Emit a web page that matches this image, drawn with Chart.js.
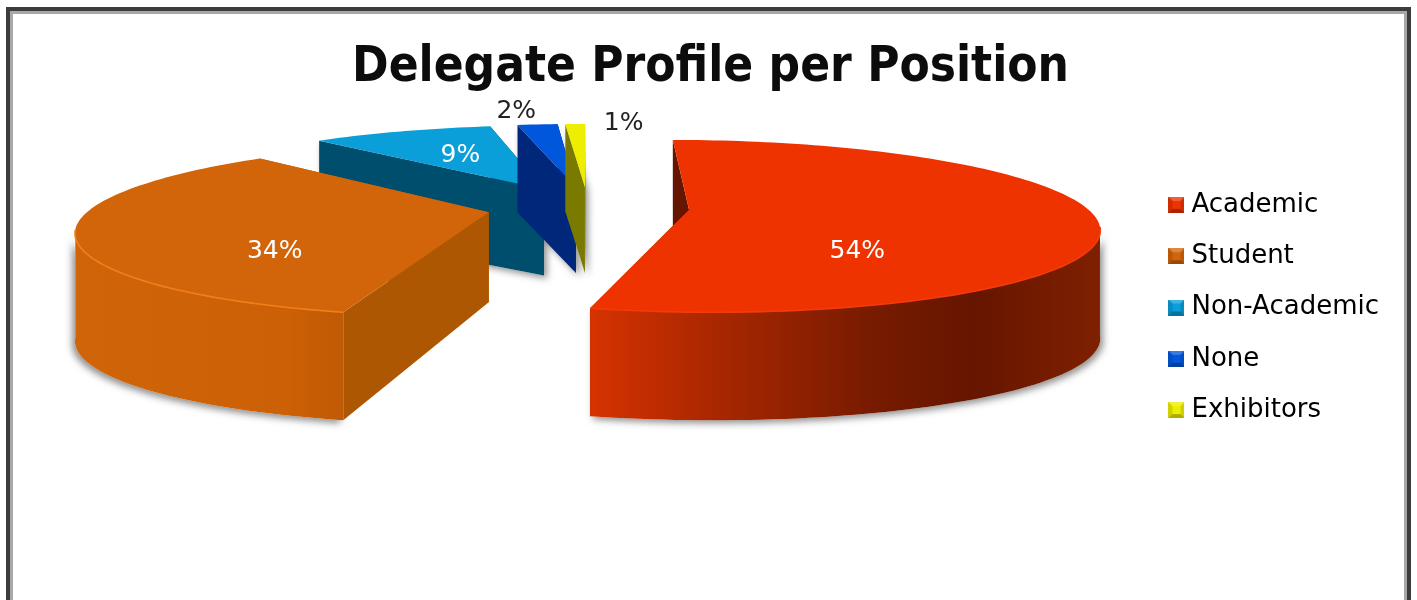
<!DOCTYPE html>
<html><head><meta charset="utf-8">
<style>
html,body{margin:0;padding:0;background:#fff;overflow:hidden;width:1417px;height:600px}
#frame{position:absolute;left:6px;top:7px;width:1397px;height:620px;border:4px solid #3c3c3c;box-sizing:content-box}
#frame:after{content:"";position:absolute;inset:0;border:3px solid #a8a8a8;border-bottom:0}
#wrap{position:absolute;left:0;top:0;width:1417px;height:600px}
</style>
<script src="https://cdn.jsdelivr.net/npm/chart.js@4/dist/chart.umd.js"></script>
</head><body>
<div id="frame"></div>
<div id="wrap"><canvas id="c" width="1417" height="600"></canvas></div>
<script>
const categories = ["Academic","Student","Non-Academic","None","Exhibitors"];
const percentValues = [54,34,9,2,1];
const labelsText = ["54%","34%","9%","2%","1%"];
const titleText = "Delegate Profile per Position";

const topColors = ["#ee3300","#d2650a","#0a9fd8","#0057dc","#eeee00"];
const cutColors = ["#661500","#ae5702","#004e6e","#00277a","#7a7a00"];
const rimColors = ["#f43c08","#f2801a",null,null,null];
const wallStops = [
  [[0,"#d63300"],[0.22,"#ad2800"],[0.55,"#781b00"],[0.75,"#661500"],[1,"#7f2000"]],
  [[0,"#cf6408"],[0.8,"#cb6006"],[1,"#c05a04"]],
  null,null,null];
const drawOrder = [2,3,4,1,0];
const labelFraction = [0.43,0.52,0.5,1.1,1.1];
const labelShift = [[-5,37],[-4,28],[-7,-3],[-18,-8],[49,5]];
const labelColors = ["#ffffff","#ffffff","#ffffff","#222222","#222222"];

// Projection of the pie plane on the page (perspective view)
const view = {cx:588, cy:207, rx:397, ry:82, persp:0.19};
const project = (u,v)=>{const w=1+view.persp*v;return [view.cx+view.rx*u/w, view.cy-view.ry*v/w, w];};

function marker(color){
  const s=16,c=document.createElement('canvas');c.width=s;c.height=s;
  const g=c.getContext('2d');
  g.fillStyle=color;g.fillRect(0,0,s,s);
  const tri=(pts,col)=>{g.fillStyle=col;g.beginPath();pts.forEach((p,i)=>i?g.lineTo(p[0],p[1]):g.moveTo(p[0],p[1]));g.closePath();g.fill();};
  tri([[0,0],[s,0],[s-4,4],[4,4]],"rgba(255,255,255,.22)");
  tri([[0,s],[s,s],[s-4,s-4],[4,s-4]],"rgba(0,0,0,.28)");
  tri([[0,0],[4,4],[4,s-4],[0,s]],"rgba(0,0,0,.12)");
  tri([[s,0],[s-4,4],[s-4,s-4],[s,s]],"rgba(0,0,0,.12)");
  return c;
}
const markers = topColors.map(marker);

const pie3d = {
  id:'pie3d',
  beforeDatasetsDraw(chart){
    const ctx=chart.ctx, arcs=chart.getDatasetMeta(0).data;
    const geo=arcs.map(a=>{
      const p=a.getProps(['startAngle','endAngle','outerRadius'],true);
      const s=p.startAngle+Math.PI/2, e=p.endAngle+Math.PI/2, m=(s+e)/2;
      const ex=a.options.offset/p.outerRadius;
      const o=[ex*Math.sin(m),ex*Math.cos(m)];
      return {s,e,m,o};
    });
    const pt=(g,r,t)=>{
      const P=project(g.o[0]+r*Math.sin(t),g.o[1]+r*Math.cos(t));
      const d=(90+18*r)/Math.max(1,P[2]);
      return {x:P[0],y:P[1],d};
    };
    const rimAngles=(g,front)=>{
      const out=[],n=Math.max(4,Math.ceil((g.e-g.s)*40));
      for(let i=0;i<=n;i++){const t=g.s+(g.e-g.s)*i/n;if(!front||Math.cos(t)<=-view.persp)out.push(t);}
      return out;
    };
    const poly=(pts)=>{ctx.beginPath();pts.forEach((p,i)=>i?ctx.lineTo(p[0],p[1]):ctx.moveTo(p[0],p[1]));ctx.closePath();};
    const wallPoly=(g)=>{
      const ts=rimAngles(g,true); if(ts.length<2) return null;
      const a=ts.map(t=>pt(g,1,t));
      return {a,path:a.map(p=>[p.x,p.y]).concat(a.slice().reverse().map(p=>[p.x,p.y+p.d]))};
    };
    const cutPoly=(g,t)=>{
      const A=pt(g,0,t),C=pt(g,1,t);
      return [[A.x,A.y],[C.x,C.y],[C.x,C.y+C.d],[A.x,A.y+A.d]];
    };
    ctx.save();
    // soft ground shadow
    drawOrder.forEach(i=>{
      const g=geo[i];
      ctx.save();
      ctx.shadowColor="rgba(70,70,70,.6)";ctx.shadowBlur=7;ctx.shadowOffsetX=i==1?-3:3;ctx.shadowOffsetY=3;
      ctx.fillStyle="#fff";
      const w=wallPoly(g);
      if(w){poly(w.path);ctx.fill();}
      if(i>1){poly(cutPoly(g,g.s));ctx.fill();}
      ctx.restore();
    });
    drawOrder.forEach(i=>{
      const g=geo[i];
      ctx.fillStyle=cutColors[i];
      poly(cutPoly(g,g.e));ctx.fill();
      poly(cutPoly(g,g.s));ctx.fill();
      const w=wallPoly(g);
      if(w&&wallStops[i]){
        const xs=w.a.map(p=>p.x),x0=Math.min(...xs),x1=Math.max(...xs);
        const gr=ctx.createLinearGradient(x0,0,x1,0);
        wallStops[i].forEach(s=>gr.addColorStop(s[0],s[1]));
        ctx.fillStyle=gr;poly(w.path);ctx.fill();
      }
      // top face
      const top=[[pt(g,0,g.s).x,pt(g,0,g.s).y]].concat(rimAngles(g,false).map(t=>{const p=pt(g,1,t);return [p.x,p.y];}));
      ctx.fillStyle=topColors[i];poly(top);ctx.fill();
      if(w&&rimColors[i]){
        ctx.strokeStyle=rimColors[i];ctx.lineWidth=1.6;ctx.beginPath();
        w.a.forEach((p,k)=>k?ctx.lineTo(p.x,p.y):ctx.moveTo(p.x,p.y));ctx.stroke();
      }
    });
    // value labels
    ctx.font='25px "DejaVu Sans"';ctx.textAlign='center';ctx.textBaseline='middle';
    geo.forEach((g,i)=>{
      const p=pt(g,labelFraction[i],g.m);
      ctx.fillStyle=labelColors[i];
      ctx.fillText(labelsText[i],p.x+labelShift[i][0],p.y+labelShift[i][1]);
    });
    ctx.restore();
    return false;
  }
};

new Chart(document.getElementById('c'),{
  type:'pie',
  data:{labels:categories,datasets:[{data:percentValues,backgroundColor:topColors,offset:51,borderWidth:0,clip:false}]},
  plugins:[pie3d],
  options:{
    responsive:false,animation:false,radius:200,
    layout:{padding:{left:32,right:28,top:15,bottom:0}},
    plugins:{
      tooltip:{enabled:false},
      title:{display:true,text:titleText,color:"#0c0c0c",font:{family:'"DejaVu Sans Condensed"',size:49,weight:'bold',lineHeight:1.2},padding:{top:24,bottom:10}},
      legend:{position:'right',labels:{
        font:{family:'"DejaVu Sans"',size:26},color:"#151515",usePointStyle:true,pointStyleWidth:4,padding:25.3,
        generateLabels(chart){return categories.map((t,i)=>({text:t,fillStyle:topColors[i],strokeStyle:topColors[i],lineWidth:0,pointStyle:markers[i],index:i,hidden:false}));}
      }}
    }
  }
});
</script>
</body></html>
